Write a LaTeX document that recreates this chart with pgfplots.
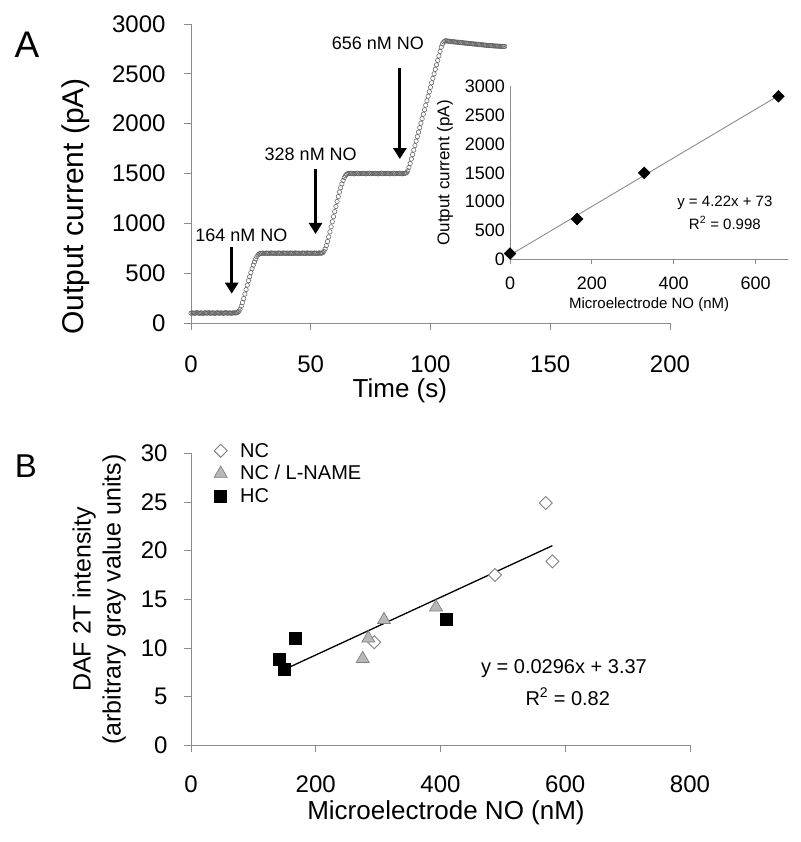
\documentclass[border=0pt]{standalone}
\usepackage{fontspec}
\setmainfont{Liberation Sans}
\usepackage{pgfplots}
\pgfplotsset{compat=1.18}
\usetikzlibrary{arrows.meta}
\definecolor{axgray}{gray}{0.55}
\definecolor{mkgray}{gray}{0.38}
\definecolor{ncgray}{gray}{0.5}
\definecolor{trigray}{gray}{0.72}
\newcommand{\fs}[1]{\fontsize{#1}{#1}\selectfont}
\pgfplotsset{
  excel/.style={
    scale only axis, anchor=south west,
    axis lines*=left,
    axis line style={axgray, line width=0.9pt, -},
    tick align=outside,
    major tick length=7pt,
    tick style={axgray, line width=0.9pt},
    /pgf/number format/assume math mode=true,
    /pgf/number format/1000 sep={},
    scaled ticks=false,
    clip=false,
  }
}
\begin{document}
\begin{tikzpicture}[x=1pt,y=1pt]
\path[use as bounding box] (0,0) rectangle (800,842);
\node[font=\fs{37}] at (27,797) {A};
\node[font=\fs{33}] at (26,375.5) {B};

% ---------------- Panel A ----------------
\begin{axis}[excel, at={(191pt,519pt)}, width=479pt, height=299pt,
  xmin=0, xmax=200, ymin=0, ymax=3000,
  xtick={0,50,100,150,200}, ytick={0,500,...,3000},
  tick label style={font=\fs{24}},
  xticklabel style={yshift=-22pt},
  yticklabel style={xshift=-15pt},
  xlabel={Time (s)}, ylabel={Output current (pA)},
  xlabel style={font=\fs{26}, at={(axis description cs:0.436,-0.228)}, anchor=center},
  ylabel style={font=\fs{30}, at={(axis description cs:-0.24,0.39)}, anchor=center},
]
\addplot[only marks, mark=o, mark size=2.2pt, mark options={mkgray, line width=0.55pt}] coordinates {
(0,98)(0.5,102)(1,100)(1.5,96)(2,101)(2.5,104)(3,99)(3.5,97)(4,102)(4.5,100)
(5,95)(5.5,101)(6,103)(6.5,98)(7,100)(7.5,104)(8,97)(8.5,99)(9,102)(9.5,100)
(10,96)(10.5,101)(11,103)(11.5,99)(12,98)(12.5,102)(13,100)(13.5,97)(14,101)(14.5,104)
(15,99)(15.5,98)(16,102)(16.5,100)(17,97)(17.5,101)(18,103)(18.5,100)(19,102)(19.5,108)
(20,118)(20.5,138)(21,168)(21.5,205)(22,245)(22.5,290)(23,335)(23.5,380)(24,425)(24.5,465)
(25,505)(25.5,545)(26,580)(26.5,612)(27,642)(27.5,666)(28,684)(28.5,694)(29,699)
(29.5,698)(30,702)(30.5,700)(31,696)(31.5,703)(32,699)(32.5,701)(33,697)(33.5,704)(34,700)
(34.5,698)(35,702)(35.5,700)(36,696)(36.5,703)(37,699)(37.5,701)(38,697)(38.5,704)(39,700)
(39.5,698)(40,702)(40.5,700)(41,696)(41.5,703)(42,699)(42.5,701)(43,697)(43.5,704)(44,700)
(44.5,698)(45,702)(45.5,700)(46,696)(46.5,703)(47,699)(47.5,701)(48,697)(48.5,704)(49,700)
(49.5,698)(50,702)(50.5,700)(51,696)(51.5,703)(52,699)(52.5,701)(53,697)(53.5,704)(54,700)(54.5,701)
(55,704)(55.5,718)(56,742)(56.5,776)(57,818)(57.5,864)(58,914)(58.5,965)(59,1016)(59.5,1067)
(60,1118)(60.5,1169)(61,1219)(61.5,1268)(62,1314)(62.5,1357)(63,1396)(63.5,1430)(64,1458)(64.5,1479)
(65,1492)(65.5,1499)(66,1502)
(66.5,1498)(67,1503)(67.5,1500)(68,1496)(68.5,1502)(69,1499)(69.5,1504)(70,1497)(70.5,1501)(71,1500)
(71.5,1498)(72,1503)(72.5,1500)(73,1496)(73.5,1502)(74,1499)(74.5,1504)(75,1497)(75.5,1501)(76,1500)
(76.5,1498)(77,1503)(77.5,1500)(78,1496)(78.5,1502)(79,1499)(79.5,1504)(80,1497)(80.5,1501)(81,1500)
(81.5,1498)(82,1503)(82.5,1500)(83,1496)(83.5,1502)(84,1499)(84.5,1504)(85,1497)(85.5,1501)(86,1500)
(86.5,1498)(87,1503)(87.5,1500)(88,1496)(88.5,1502)(89,1499)(89.5,1503)
(90,1508)(90.5,1528)(91,1560)(91.5,1600)(92,1645)(92.5,1690)(93,1735)(93.5,1780)(94,1825)(94.5,1870)
(95,1915)(95.5,1960)(96,2005)(96.5,2050)(97,2095)(97.5,2140)(98,2185)(98.5,2230)(99,2275)(99.5,2320)
(100,2365)(100.5,2410)(101,2455)(101.5,2500)(102,2545)(102.5,2590)(103,2635)(103.5,2680)(104,2725)(104.5,2768)
(105,2800)(105.5,2820)(106,2830)(106.5,2832)
(107,2829)(107.5,2826)(108,2828)(108.5,2823)(109,2825)(109.5,2820)(110,2822)(110.5,2818)(111,2819)(111.5,2815)
(112,2817)(112.5,2812)(113,2814)(113.5,2810)(114,2811)(114.5,2807)(115,2809)(115.5,2805)(116,2806)(116.5,2802)
(117,2804)(117.5,2800)(118,2801)(118.5,2797)(119,2799)(119.5,2795)(120,2796)(120.5,2792)(121,2794)(121.5,2790)
(122,2791)(122.5,2787)(123,2789)(123.5,2785)(124,2786)(124.5,2783)(125,2784)(125.5,2781)(126,2782)(126.5,2779)
(127,2780)(127.5,2778)(128,2779)(128.5,2776)(129,2777)(129.5,2775)(130,2776)(130.5,2774)(131,2775)
};
\draw[line width=3pt, -{Triangle[width=13pt,length=11pt]}] (axis cs:17,762) -- (axis cs:17,294);
\draw[line width=3pt, -{Triangle[width=13pt,length=11pt]}] (axis cs:52,1545) -- (axis cs:52,893);
\draw[line width=3pt, -{Triangle[width=13pt,length=11pt]}] (axis cs:87.2,2558) -- (axis cs:87.2,1645);
\node[font=\fs{18}] at (axis cs:21,881) {164 nM NO};
\node[font=\fs{18}] at (axis cs:50,1693) {328 nM NO};
\node[font=\fs{18}] at (axis cs:78,2804) {656 nM NO};
\end{axis}

% ---------------- Inset ----------------
\begin{axis}[excel, at={(510pt,582.7pt)}, width=278.3pt, height=172.8pt,
  xmin=0, xmax=680, ymin=0, ymax=3000,
  xtick={0,200,400,600}, ytick={0,500,...,3000},
  ytick style={draw=none}, major tick length=4.5pt,
  tick label style={font=\fs{18}},
  xticklabel style={yshift=-10pt},
  yticklabel style={xshift=3pt},
  xlabel={Microelectrode NO (nM)}, ylabel={Output current (pA)},
  xlabel style={font=\fs{15}, at={(axis description cs:0.5,-0.26)}, anchor=center},
  ylabel style={font=\fs{17}, at={(axis description cs:-0.234,0.5)}, anchor=center},
]
\addplot[axgray, line width=0.9pt] coordinates {(0,73) (656,2841)};
\addplot[only marks, mark=square*, mark size=4.2pt, mark options={rotate=45, fill=black, draw=black}]
  coordinates {(0,100)(164,700)(328,1500)(656,2830)};
\node[font=\fs{15}] at (axis cs:525,983) {y = 4.22x + 73};
\node[font=\fs{15}] at (axis cs:525,630) {R\textsuperscript{2} = 0.998};
\end{axis}

% ---------------- Panel B ----------------
\begin{axis}[excel, at={(191pt,96.6pt)}, width=499pt, height=292pt,
  xmin=0, xmax=800, ymin=0, ymax=30,
  xtick={0,200,...,800}, ytick={0,5,...,30},
  tick label style={font=\fs{24}},
  xticklabel style={yshift=-20pt},
  yticklabel style={xshift=-13pt},
  xlabel={Microelectrode NO (nM)},
  ylabel={DAF 2T intensity\\(arbitrary gray value units)},
  ylabel style={align=center, font=\fontsize{25}{30}\selectfont, at={(axis description cs:-0.184,0.5)}, anchor=center},
  xlabel style={font=\fs{26}, at={(axis description cs:0.511,-0.23)}, anchor=center},
  legend style={at={(axis description cs:0.046,1.043)}, anchor=north west, draw=none, fill=none,
    font=\fs{20}, row sep=3pt, cells={anchor=west}, inner sep=0pt,
    /tikz/every odd column/.style={column sep=11pt}},
  legend image code/.code={\draw[mark repeat=2,mark phase=2,#1] plot coordinates {(-5pt,0pt)(0pt,0pt)(5pt,0pt)};},
]
\addplot[black, line width=1.3pt, forget plot] coordinates {(141.6,7.56)(579.4,20.52)};
\addplot[only marks, mark=square*, mark size=4.6pt, mark options={rotate=45, draw=ncgray, fill=white, line width=0.9pt}]
  coordinates {(568.7,24.9)(579.4,18.9)(487.4,17.5)(293.9,10.6)};
\addlegendentry{NC}
\addplot[only marks, mark=triangle*, mark size=7.5pt, mark options={fill=trigray, draw=ncgray, line width=0.7pt}]
  coordinates {(275.3,8.9)(284.3,11.0)(309.4,12.9)(392.8,14.2)};
\addlegendentry{NC / L-NAME}
\addplot[only marks, mark=square*, mark size=6pt, mark options={fill=black, draw=black}]
  coordinates {(166.7,11.0)(141.6,8.9)(149.6,7.8)(409.9,13.0)};
\addlegendentry{HC}
\node[font=\fs{20}] at (axis cs:598,7.9) {y = 0.0296x + 3.37};
\node[font=\fs{20}] at (axis cs:604,5.0) {R\textsuperscript{2} = 0.82};
\end{axis}
\end{tikzpicture}
\end{document}
